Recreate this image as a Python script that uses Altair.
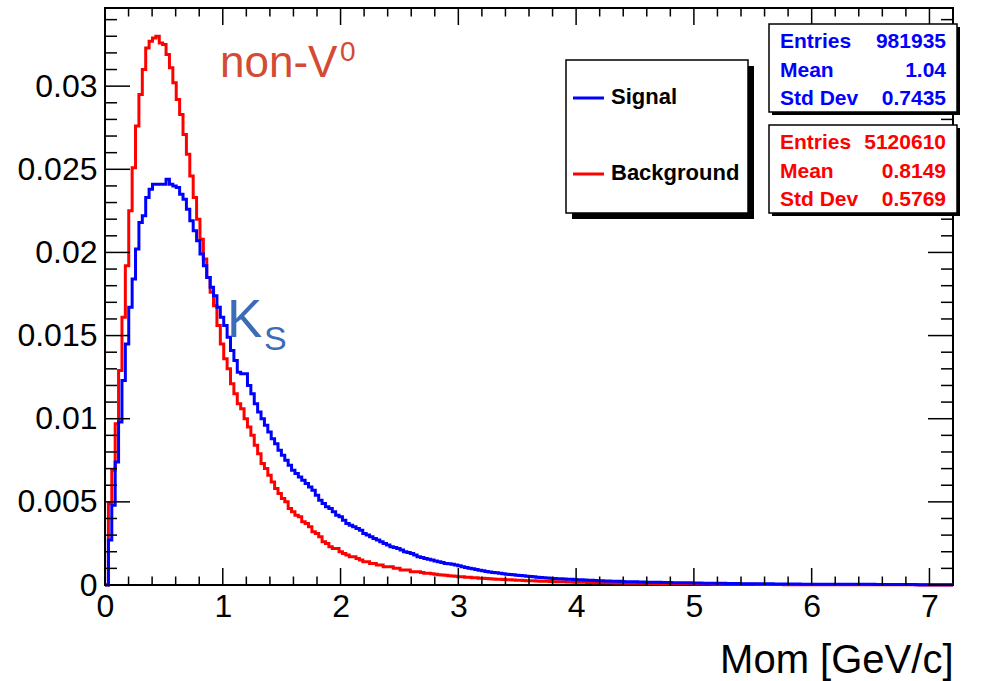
import altair as alt
import pandas as pd

# ---------------- data ----------------
X_DOMAIN = [0.0, 7.2]
Y_DOMAIN = [0.0, 0.0347]
N_BINS = 250
UNIT = 1e-4  # bin contents below are given in units of 1e-4

background_counts = [
    0, 49, 69, 97, 129, 161, 192, 225, 251, 276,
    295, 310, 323, 327, 329, 330, 326, 325, 319, 311,
    302, 292, 283, 271, 259, 246, 233, 220, 208, 196,
    185, 176, 168, 156, 145, 136, 130, 121, 115, 109,
    106, 100, 95, 90, 84, 79, 73, 70, 66, 62,
    58, 55, 52, 50, 46, 44, 42, 41, 38, 37,
    35, 32, 31, 29, 26, 25, 23, 22, 22, 20,
    19, 18, 17, 17, 16, 15, 14, 14, 13, 13,
    12, 12, 11, 11, 11, 10, 10, 9, 9, 9,
    8, 8, 8, 7.5, 7, 7, 6.8, 6.5, 6.2, 6,
    5.8, 5.6, 5.4, 5.2, 5.0, 4.9, 4.7, 4.6, 4.4, 4.3,
    4.1, 4.0, 3.9, 3.7, 3.6, 3.5, 3.4, 3.3, 3.2, 3.1,
    3.0, 2.9, 2.8, 2.7, 2.6, 2.5, 2.5, 2.4, 2.3, 2.2,
    2.2, 2.1, 2.0, 2.0, 1.9, 1.9, 1.8, 1.8, 1.7, 1.7,
    1.6, 1.6, 1.5, 1.5, 1.4, 1.4, 1.4, 1.3, 1.3, 1.3,
    1.2, 1.2, 1.2, 1.1, 1.1, 1.1, 1.0, 1.0, 1.0, 1.0,
    0.9, 0.9, 0.9, 0.9, 0.8, 0.8, 0.8, 0.8, 0.7, 0.7,
    0.7, 0.7, 0.7, 0.6, 0.6, 0.6, 0.6, 0.6, 0.6, 0.5,
    0.5, 0.5, 0.5, 0.5, 0.5, 0.4, 0.4, 0.4, 0.4, 0.4,
    0.4, 0.4, 0.3, 0.3, 0.3, 0.3, 0.3, 0.3, 0.3, 0.3,
    0.2, 0.2, 0.2, 0.2, 0.2, 0.2, 0.2, 0.2, 0.2, 0.2,
    0.2, 0.2, 0.2, 0.2, 0.2, 0.2, 0.2, 0.2, 0.2, 0.2,
    0.1, 0.1, 0.1, 0.1, 0.1, 0.1, 0.1, 0.1, 0.1, 0.1,
    0.1, 0.1, 0.1, 0.1, 0.1, 0.1, 0.1, 0.1, 0.1, 0.1,
    0.05, 0.05, 0.05, 0.05, 0.05, 0.05, 0.05, 0.05, 0.05, 0.05,
]

signal_counts = [
    0, 27, 48, 74, 98, 123, 145, 167, 184, 202,
    218, 222, 233, 238, 241, 241, 241, 241, 244, 241,
    240, 239, 235, 232, 226, 219, 213, 207, 199, 192,
    185, 179, 174, 167, 161, 156, 149, 141, 135, 128,
    127, 127, 120, 115, 109, 104, 100, 96, 92, 88,
    85, 81, 78, 75, 72, 69, 67, 65, 63, 61,
    59, 57, 54, 51, 49, 47, 46, 44, 42, 41,
    39, 37, 36, 35, 34, 33, 31, 30, 29, 28,
    27, 26, 25, 24, 23, 22.5, 22, 21, 20, 19.5,
    19, 18, 17, 16.5, 16, 15.5, 15, 14.5, 14, 13.5,
    13, 12.8, 12.5, 12.1, 11.6, 11.0, 10.5, 10.1, 9.7, 9.3,
    8.9, 8.5, 8.1, 7.8, 7.5, 7.3, 7.0, 6.7, 6.5, 6.3,
    6.1, 5.9, 5.7, 5.5, 5.3, 5.1, 4.9, 4.7, 4.5, 4.3,
    4.2, 4.0, 3.9, 3.8, 3.7, 3.6, 3.5, 3.4, 3.3, 3.2,
    3.1, 3.0, 2.9, 2.8, 2.7, 2.6, 2.5, 2.4, 2.4, 2.3,
    2.2, 2.2, 2.1, 2.0, 2.0, 1.9, 1.9, 1.8, 1.8, 1.7,
    1.7, 1.6, 1.6, 1.6, 1.5, 1.5, 1.5, 1.4, 1.4, 1.4,
    1.3, 1.3, 1.3, 1.2, 1.2, 1.2, 1.1, 1.1, 1.1, 1.0,
    1.0, 1.0, 1.0, 0.9, 0.9, 0.9, 0.9, 0.8, 0.8, 0.8,
    0.8, 0.8, 0.7, 0.7, 0.7, 0.7, 0.7, 0.6, 0.6, 0.6,
    0.6, 0.6, 0.6, 0.6, 0.6, 0.5, 0.5, 0.5, 0.5, 0.5,
    0.5, 0.5, 0.5, 0.5, 0.5, 0.4, 0.4, 0.4, 0.4, 0.4,
    0.4, 0.4, 0.4, 0.4, 0.4, 0.4, 0.4, 0.3, 0.3, 0.3,
    0.3, 0.3, 0.3, 0.3, 0.3, 0.3, 0.3, 0.3, 0.3, 0.2,
    0.2, 0.2, 0.2, 0.2, 0.2, 0.2, 0.2, 0.2, 0.2, 0.2,
]

Y_MAJOR = [0, 0.005, 0.01, 0.015, 0.02, 0.025, 0.03]
Y_MINOR = [i / 1000 for i in range(1, 35) if i % 5 != 0]
X_MAJOR = [0, 1, 2, 3, 4, 5, 6, 7]
X_MINOR = [i / 5 for i in range(1, 36) if i % 5 != 0]

SIGNAL_STATS = [("Entries", "981935"), ("Mean", "1.04"), ("Std Dev", "0.7435")]
BACKGROUND_STATS = [("Entries", "5120610"), ("Mean", "0.8149"), ("Std Dev", "0.5769")]
LEGEND_ITEMS = ["Signal", "Background"]

# ---------------- layout / style ----------------
W, H = 848, 577
FONT = "Liberation Sans"
BLUE, RED = "#0000ff", "#ff0000"


def hist_df(vals):
    w = (X_DOMAIN[1] - X_DOMAIN[0]) / N_BINS
    xs = [X_DOMAIN[0] + k * w for k in range(N_BINS)] + [X_DOMAIN[1]]
    ys = [v * UNIT for v in vals] + [vals[-1] * UNIT]
    return pd.DataFrame({"x": xs, "y": ys})


XS = alt.Scale(domain=X_DOMAIN, nice=False, zero=False)
YS = alt.Scale(domain=Y_DOMAIN, nice=False, zero=False)
X_AXIS = alt.Axis(values=X_MAJOR, format="d", labelFontSize=32, labelFont=FONT,
                  tickSize=0, domain=False, grid=False, labelPadding=6,
                  labelFlush=False, labelOverlap=False, labelColor="black",
                  title="Mom [GeV/c]", titleFont=FONT, titleFontSize=40,
                  titleFontWeight="normal", titleColor="black",
                  titleAnchor="end", titleAlign="right", titleX=W, titleY=87,
                  titleBaseline="alphabetic")
Y_AXIS = alt.Axis(values=Y_MAJOR, format=".3~f", labelFontSize=32, labelFont=FONT,
                  tickSize=0, domain=False, grid=False, labelPadding=8,
                  labelFlush=False, labelOverlap=False, labelColor="black",
                  title=None)


def xenc():
    return alt.X("x:Q", scale=XS, axis=X_AXIS)


def yenc():
    return alt.Y("y:Q", scale=YS, axis=Y_AXIS)


layers = []

# histogram lines
for vals, col in [(background_counts, RED), (signal_counts, BLUE)]:
    layers.append(
        alt.Chart(hist_df(vals)).mark_line(
            interpolate="step-after", color=col, strokeWidth=3,
            strokeJoin="miter", strokeCap="butt"
        ).encode(x=xenc(), y=yenc())
    )

# inward ticks (ROOT style, on all four sides)
for vals, ln in [(Y_MAJOR, 25), (Y_MINOR, 12)]:
    df = pd.DataFrame({"y": vals})
    for x0, x1 in [(0, ln), (W - ln, W)]:
        layers.append(alt.Chart(df).mark_rule(color="black", strokeWidth=1.5).encode(
            y=yenc(), x=alt.value(x0), x2=alt.value(x1)))
for vals, ln in [(X_MAJOR, 17), (X_MINOR, 8.5)]:
    df = pd.DataFrame({"x": vals})
    for y0, y1 in [(H - ln, H), (0, ln)]:
        layers.append(alt.Chart(df).mark_rule(color="black", strokeWidth=1.5).encode(
            x=xenc(), y=alt.value(y0), y2=alt.value(y1)))

one = pd.DataFrame({"a": [0]})


def box(x0, x1, y0, y1, shadow):
    return [
        alt.Chart(one).mark_rect(fill="black", clip=False).encode(
            x=alt.value(x0 + shadow), x2=alt.value(x1 + shadow),
            y=alt.value(y0 + shadow), y2=alt.value(y1 + shadow)),
        alt.Chart(one).mark_rect(fill="white", stroke="black", strokeWidth=1.5, clip=False).encode(
            x=alt.value(x0), x2=alt.value(x1), y=alt.value(y0), y2=alt.value(y1)),
    ]


def text(t, x, y, size, color="black", weight="normal", align="left"):
    return alt.Chart(one).mark_text(
        text=t, font=FONT, fontSize=size, color=color, fontWeight=weight,
        align=align, baseline="alphabetic", clip=False
    ).encode(x=alt.value(x), y=alt.value(y))


# legend
layers += box(461, 643, 52, 205, 6)
for name, col, yy in [(LEGEND_ITEMS[0], BLUE, 90), (LEGEND_ITEMS[1], RED, 166)]:
    layers.append(alt.Chart(one).mark_rule(color=col, strokeWidth=3).encode(
        x=alt.value(468), x2=alt.value(499), y=alt.value(yy)))
    layers.append(text(name, 506, yy + 6, 22, weight="bold"))

# stats boxes
for stats, col, top in [(SIGNAL_STATS, BLUE, 16), (BACKGROUND_STATS, RED, 117)]:
    layers += box(664, 852, top, top + 88, 3)
    for i, (lab, val) in enumerate(stats):
        yy = top + 24 + i * 28.6
        layers.append(text(lab, 675, yy, 21, color=col, weight="bold"))
        layers.append(text(val, 841, yy, 21, color=col, weight="bold", align="right"))

# annotations
layers.append(text("non-V", 115, 69, 44, color="#d24b32"))
layers.append(text("0", 235, 53, 28, color="#d24b32"))
layers.append(text("K", 122, 329, 53, color="#3b6cb5"))
layers.append(text("S", 159, 342, 34, color="#3b6cb5"))

chart = alt.layer(*layers).properties(
    width=W, height=H,
    padding={"left": 105, "top": 8, "right": 30, "bottom": 96},
    autosize=alt.AutoSizeParams(type="none"),
    background="white",
).configure_view(stroke="black", strokeWidth=2)

chart.save("out.html", embed_options={"renderer": "svg", "actions": False})
